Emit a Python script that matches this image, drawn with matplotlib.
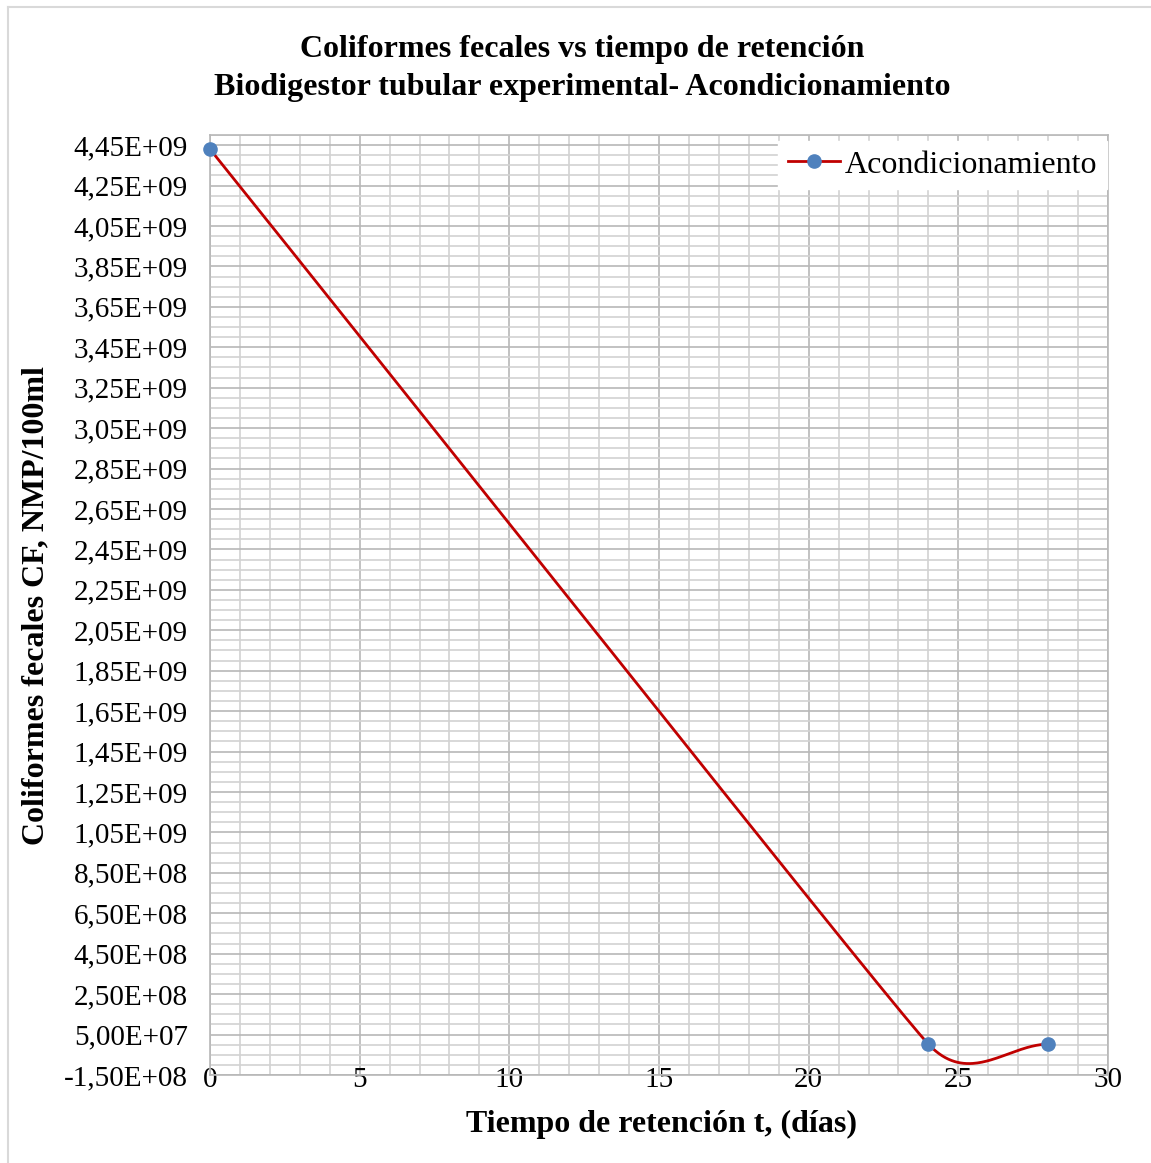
import numpy as np
import matplotlib
matplotlib.use("Agg")
import matplotlib.pyplot as plt
from matplotlib.ticker import MultipleLocator, FixedLocator, FuncFormatter
from matplotlib.lines import Line2D

# Data: fecal coliforms vs retention time
dias = [0, 24, 28]
coliformes = [4.43e9, 2.6e6, 2.4e6]
serie = "Acondicionamiento"

titulo_1 = "Coliformes fecales vs tiempo de retención"
titulo_2 = "Biodigestor tubular experimental- Acondicionamiento"
etiqueta_x = "Tiempo de retención t, (días)"
etiqueta_y = "Coliformes fecales CF, NMP/100ml"

y_min, y_max = -1.5e8, 4.5e9
y_ticks = [-1.5e8 + 2e8 * i for i in range(24)]

plt.rcParams["font.family"] = ["Liberation Serif", "DejaVu Serif"]

W, H = 1151, 1163
fig = plt.figure(figsize=(W / 100, H / 100), dpi=100)
fig.patch.set_facecolor("white")

# thin outer frame (left and top edges visible)
fig.add_artist(Line2D([8 / W, 8 / W], [0, 1 - 7 / H], transform=fig.transFigure,
                      color="#d9d9d9", lw=1.5))
fig.add_artist(Line2D([8 / W, 1], [1 - 7 / H, 1 - 7 / H], transform=fig.transFigure,
                      color="#d9d9d9", lw=1.5))

ax = fig.add_axes([210 / W, 1 - 1075 / H, (1108 - 210) / W, (1075 - 135) / H])
ax.set_xlim(0, 30)
ax.set_ylim(y_min, y_max)

ax.xaxis.set_major_locator(MultipleLocator(5))
ax.xaxis.set_minor_locator(MultipleLocator(1))
ax.yaxis.set_major_locator(FixedLocator(y_ticks))
ax.yaxis.set_minor_locator(MultipleLocator(5e7))
ax.yaxis.set_major_formatter(FuncFormatter(lambda v, p: f"{v:.2E}".replace(".", ",")))

ax.grid(which="minor", color="#d2d2d2", lw=1.2)
ax.grid(which="major", color="#b8b8b8", lw=1.2)
ax.set_axisbelow(True)
for s in ax.spines.values():
    s.set_color("#b8b8b8")
    s.set_linewidth(1.2)

ax.tick_params(which="both", length=0)
ax.tick_params(axis="y", labelsize=21, pad=16)
ax.tick_params(axis="x", labelsize=21, pad=-6)

# smoothed curve (cubic Bezier segments built in display space)
fig.canvas.draw()
pts = ax.transData.transform(np.column_stack([dias, coliformes]))
n = len(pts)
tangents = []
for i in range(n):
    if i == 0:
        d = pts[1] - pts[0]
    elif i == n - 1:
        d = pts[-1] - pts[-2]
    else:
        d = pts[i + 1] - pts[i - 1]
    tangents.append(d / np.linalg.norm(d))
curve = []
t = np.linspace(0, 1, 80)[:, None]
for i in range(n - 1):
    p0, p3 = pts[i], pts[i + 1]
    seg = np.linalg.norm(p3 - p0)
    if i == 0:
        c1 = p0 + tangents[0] * seg / 3
    else:
        lim = min(np.linalg.norm(pts[i] - pts[i - 1]), seg)
        c1 = p0 + tangents[i] * 0.5 * lim
    if i + 1 == n - 1:
        c2 = p3 - tangents[i + 1] * seg / 3
    else:
        lim = min(np.linalg.norm(pts[i + 2] - pts[i + 1]), seg)
        c2 = p3 - tangents[i + 1] * 0.5 * lim
    b = ((1 - t) ** 3) * p0 + 3 * ((1 - t) ** 2) * t * c1 + 3 * (1 - t) * t ** 2 * c2 + t ** 3 * p3
    curve.append(b)
curve = ax.transData.inverted().transform(np.vstack(curve))

ax.plot(curve[:, 0], curve[:, 1], color="#c00000", lw=2, zorder=3, clip_on=False)
ax.plot(dias, coliformes, ls="none", marker="o", ms=9.5, color="#4f81bd", zorder=4,
        clip_on=False)

handle = Line2D([], [], color="#c00000", lw=2, marker="o", ms=9.5,
                markerfacecolor="#4f81bd", markeredgecolor="#4f81bd")
leg = ax.legend([handle], [serie], loc="upper right", bbox_to_anchor=(0.999, 0.994),
                frameon=True, fancybox=False, fontsize=23, handlelength=1.65,
                handletextpad=0.15, borderpad=0.3, borderaxespad=0)
leg.get_frame().set_facecolor("white")
leg.get_frame().set_edgecolor("white")
leg.get_frame().set_alpha(1)

fig.text(582 / W, 1 - 50 / H, titulo_1, ha="center", va="center", fontsize=23,
         fontweight="bold")
fig.text(582 / W, 1 - 87 / H, titulo_2, ha="center", va="center", fontsize=23,
         fontweight="bold")
fig.text(661 / W, 1 - 1124 / H, etiqueta_x, ha="center", va="center", fontsize=23,
         fontweight="bold")
fig.text(36 / W, 1 - 606 / H, etiqueta_y, ha="center", va="center", fontsize=23,
         fontweight="bold", rotation=90)

fig.savefig("out.png", dpi=100)
